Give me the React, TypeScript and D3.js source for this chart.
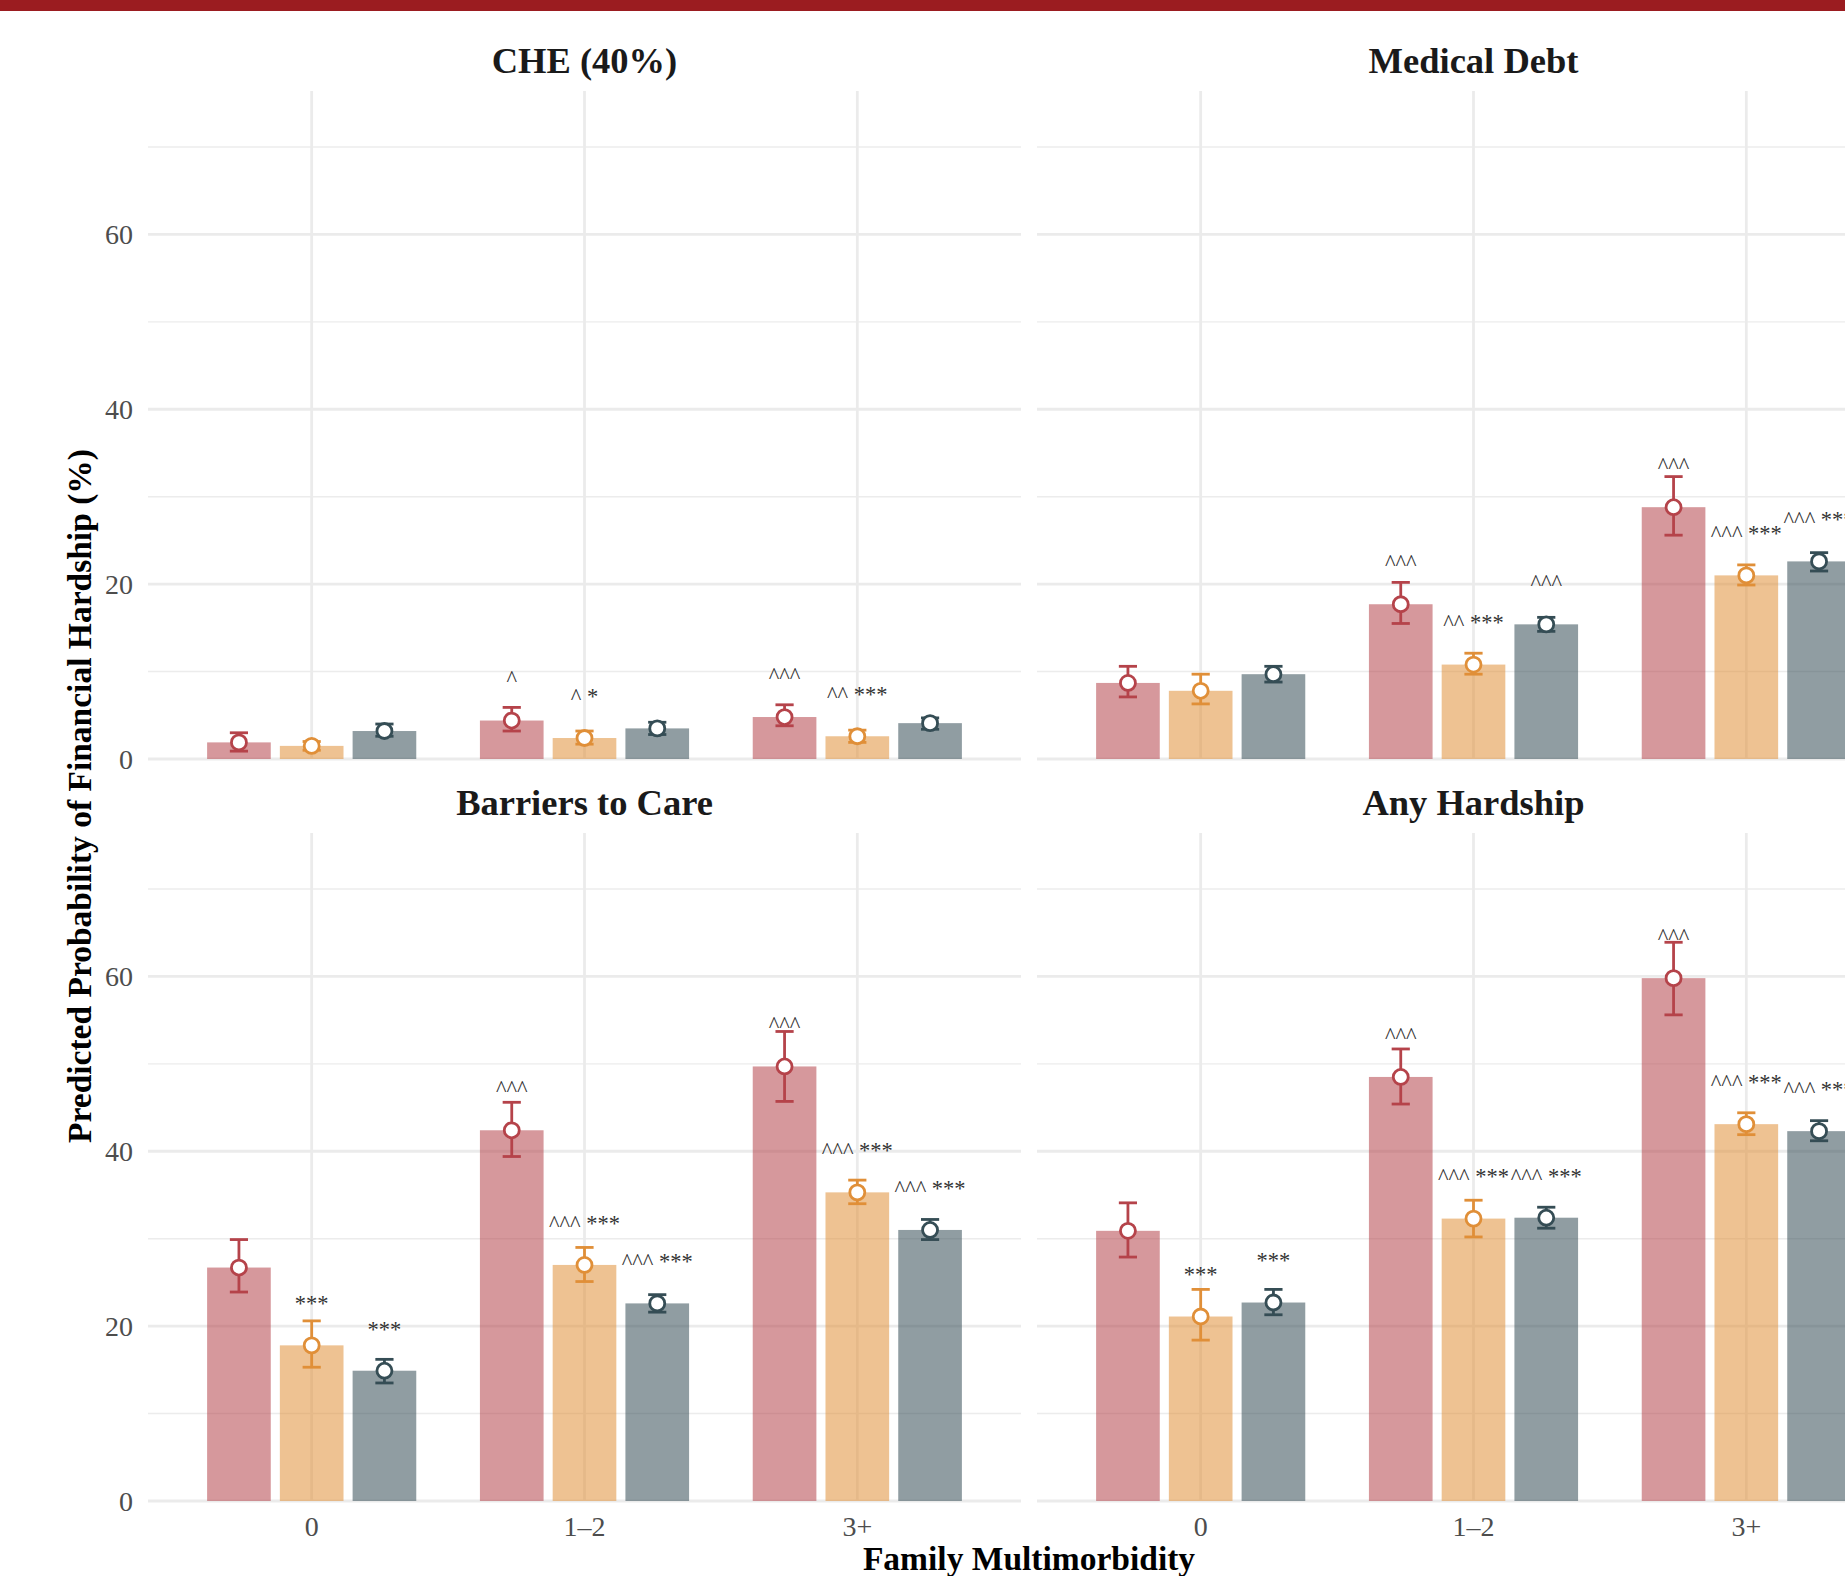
import React from "react";
import * as d3 from "d3";

// ---- data ----
const categories = ["0", "1–2", "3+"];
const panelTitles = ["CHE (40%)", "Medical Debt", "Barriers to Care", "Any Hardship"];
const seriesNames = ["Series 1", "Series 2", "Series 3"];
const yMajorTicks = [0, 20, 40, 60];
const yMinorTicks = [10, 30, 50, 70];

// values indexed [category][series]
const cheEst = [[1.9, 1.5, 3.2], [4.4, 2.4, 3.5], [4.8, 2.6, 4.1]];
const cheLo = [[0.9, 1.0, 2.6], [3.2, 1.7, 2.8], [3.8, 1.9, 3.4]];
const cheHi = [[3.0, 2.0, 4.0], [5.9, 3.2, 4.2], [6.2, 3.3, 4.7]];
const cheLab = [["", "", ""], ["^", "^ *", ""], ["^^^", "^^ ***", ""]];

const debtEst = [[8.7, 7.8, 9.7], [17.7, 10.8, 15.4], [28.8, 21.0, 22.6]];
const debtLo = [[7.1, 6.3, 8.8], [15.5, 9.7, 14.6], [25.6, 19.9, 21.5]];
const debtHi = [[10.6, 9.7, 10.6], [20.2, 12.1, 16.2], [32.3, 22.2, 23.6]];
const debtLab = [["", "", ""], ["^^^", "^^ ***", "^^^"], ["^^^", "^^^ ***", "^^^ ***"]];

const barrEst = [[26.7, 17.8, 14.9], [42.4, 27.0, 22.6], [49.7, 35.3, 31.0]];
const barrLo = [[23.9, 15.3, 13.5], [39.4, 25.1, 21.6], [45.7, 34.0, 29.9]];
const barrHi = [[29.9, 20.6, 16.2], [45.6, 29.0, 23.6], [53.7, 36.7, 32.2]];
const barrLab = [["", "***", "***"], ["^^^", "^^^ ***", "^^^ ***"], ["^^^", "^^^ ***", "^^^ ***"]];

const anyEst = [[30.9, 21.1, 22.7], [48.5, 32.3, 32.4], [59.8, 43.1, 42.3]];
const anyLo = [[27.9, 18.4, 21.3], [45.4, 30.2, 31.2], [55.6, 41.9, 41.2]];
const anyHi = [[34.1, 24.2, 24.2], [51.7, 34.4, 33.6], [63.9, 44.4, 43.5]];
const anyLab = [["", "***", "***"], ["^^^", "^^^ ***", "^^^ ***"], ["^^^", "^^^ ***", "^^^ ***"]];

const panelData = [
  { est: cheEst, lo: cheLo, hi: cheHi, lab: cheLab },
  { est: debtEst, lo: debtLo, hi: debtHi, lab: debtLab },
  { est: barrEst, lo: barrLo, hi: barrHi, lab: barrLab },
  { est: anyEst, lo: anyLo, hi: anyHi, lab: anyLab },
];

const seriesColors = ["#b5434a", "#e08f38", "#354d55"];

// ---- layout ----
const W = 1845;
const H = 1576;
const FONT = "'Liberation Serif', 'Times New Roman', serif";
const panelLefts = [148, 1037];
const panelWidth = 873;
const panelTops = [91, 833];
const panelHeight = 668;
const labelOffset = 5.1;

export default function App() {
  const panels = panelTitles.map((title, p) => {
    const col = p % 2;
    const row = Math.floor(p / 2);
    const x0 = panelLefts[col];
    const y0 = panelTops[row];
    const x = d3.scalePoint<string>().domain(categories).range([x0, x0 + panelWidth]).padding(0.6);
    const y = d3.scaleLinear().domain([0, 76.4]).range([y0 + panelHeight, y0]);
    const step = x.step();
    const dodge = (step * 0.8) / 3;
    const barW = (step * 0.7) / 3;
    const capW = (step * 0.2) / 3;
    const d = panelData[p];
    return { title, col, row, x0, y0, x, y, dodge, barW, capW, d };
  });

  return (
    <div style={{ position: "absolute", left: 0, top: 0, width: W, height: H, overflow: "hidden" }}>
      <svg width={W} height={H} style={{ display: "block", background: "#fff" }} fontFamily={FONT}>
        <rect x={0} y={0} width={W} height={11} fill="#9b1c20" />
        {panels.map((pn, p) => (
          <g key={p}>
            {/* grid */}
            {yMinorTicks.map((t) => (
              <line key={"mn" + t} x1={pn.x0} x2={pn.x0 + panelWidth} y1={pn.y(t)} y2={pn.y(t)} stroke="#ececec" strokeWidth={1.4} />
            ))}
            {yMajorTicks.map((t) => (
              <line key={"mj" + t} x1={pn.x0} x2={pn.x0 + panelWidth} y1={pn.y(t)} y2={pn.y(t)} stroke="#ebebeb" strokeWidth={2.8} />
            ))}
            {categories.map((c) => (
              <line key={"v" + c} x1={pn.x(c)!} x2={pn.x(c)!} y1={pn.y0} y2={pn.y0 + panelHeight} stroke="#ebebeb" strokeWidth={2.8} />
            ))}
            {/* strip title */}
            <text x={pn.x0 + panelWidth / 2} y={pn.y0 - 18} textAnchor="middle" fontSize={36.5} fontWeight="bold" fill="#1a1a1a">
              {pn.title}
            </text>
            {/* y tick labels */}
            {pn.col === 0 &&
              yMajorTicks.map((t) => (
                <text key={"yl" + t} x={133} y={pn.y(t) + 9.5} textAnchor="end" fontSize={28} fill="#4d4d4d">
                  {t}
                </text>
              ))}
            {/* x tick labels */}
            {pn.row === 1 &&
              categories.map((c) => (
                <text key={"xl" + c} x={pn.x(c)!} y={pn.y0 + panelHeight + 35} textAnchor="middle" fontSize={28} fill="#4d4d4d">
                  {c}
                </text>
              ))}
            {/* bars */}
            {categories.map((c, ci) =>
              seriesNames.map((s, si) => {
                const cx = pn.x(c)! + (si - 1) * pn.dodge;
                const v = pn.d.est[ci][si];
                return (
                  <rect key={"b" + ci + si} x={cx - pn.barW / 2} y={pn.y(v)} width={pn.barW} height={pn.y(0) - pn.y(v)} fill={seriesColors[si]} fillOpacity={0.55} />
                );
              })
            )}
            {/* error bars + points */}
            {categories.map((c, ci) =>
              seriesNames.map((s, si) => {
                const cx = pn.x(c)! + (si - 1) * pn.dodge;
                const lo = pn.y(pn.d.lo[ci][si]);
                const hi = pn.y(pn.d.hi[ci][si]);
                const col = seriesColors[si];
                return (
                  <g key={"e" + ci + si}>
                    <line x1={cx} x2={cx} y1={lo} y2={hi} stroke={col} strokeWidth={2.8} />
                    <line x1={cx - pn.capW / 2} x2={cx + pn.capW / 2} y1={lo} y2={lo} stroke={col} strokeWidth={2.8} />
                    <line x1={cx - pn.capW / 2} x2={cx + pn.capW / 2} y1={hi} y2={hi} stroke={col} strokeWidth={2.8} />
                    <circle cx={cx} cy={pn.y(pn.d.est[ci][si])} r={7.5} fill="#fff" stroke={col} strokeWidth={2.8} />
                  </g>
                );
              })
            )}
            {/* significance labels */}
            {categories.map((c, ci) =>
              seriesNames.map((s, si) => {
                const lab = pn.d.lab[ci][si];
                if (!lab) return null;
                const cx = pn.x(c)! + (si - 1) * pn.dodge;
                return (
                  <text key={"t" + ci + si} x={cx} y={pn.y(pn.d.est[ci][si] + labelOffset) + 10.5} textAnchor="middle" fontSize={22.5} fill="#333">
                    {lab}
                  </text>
                );
              })
            )}
          </g>
        ))}
        {/* axis titles */}
        <text transform={`translate(91, ${(panelTops[0] + panelTops[1] + panelHeight) / 2}) rotate(-90)`} textAnchor="middle" fontSize={33.5} fontWeight="bold" fill="#000">
          Predicted Probability of Financial Hardship (%)
        </text>
        <text x={(panelLefts[0] + panelLefts[1] + panelWidth) / 2} y={1570} textAnchor="middle" fontSize={33.5} fontWeight="bold" fill="#000">
          Family Multimorbidity
        </text>
      </svg>
    </div>
  );
}
